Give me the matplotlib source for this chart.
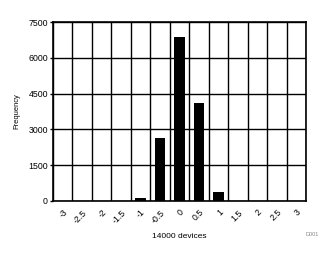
import matplotlib
matplotlib.use("Agg")
import matplotlib.pyplot as plt
import numpy as np

categories = ["-3", "-2.5", "-2", "-1.5", "-1", "-0.5", "0", "0.5", "1", "1.5", "2", "2.5", "3"]
frequency = [0, 0, 0, 0, 140, 2625, 6870, 4125, 375, 0, 0, 0, 0]
yticks = [0, 1500, 3000, 4500, 6000, 7500]

plt.rcParams['font.family'] = ['Liberation Sans', 'DejaVu Sans']

fig = plt.figure(figsize=(3.35, 2.54), dpi=100)
ax = fig.add_axes([53/335, 1 - 201/254, (306-53)/335, (201-22)/254])

x = np.arange(len(categories))
ax.bar(x, frequency, width=0.56, color='black', zorder=3)
ax.set_xlim(-0.5, len(categories) - 0.5)
ax.set_ylim(0, 7500)
ax.set_yticks(yticks)
ax.set_yticklabels([str(v) for v in yticks], fontsize=6.3)
ax.set_xticks(x)
ax.set_xticklabels(categories, fontsize=6.3, rotation=45, ha='right', rotation_mode='anchor')
ax.set_xticks(np.arange(len(categories) + 1) - 0.5, minor=True)
ax.tick_params(axis='x', which='both', length=0, pad=5)
ax.tick_params(axis='y', which='major', length=2.2, width=1.0, pad=1.5, direction='out')
ax.grid(True, which='minor', axis='x', color='black', linewidth=1.0, zorder=1)
ax.grid(True, which='major', axis='y', color='black', linewidth=1.0, zorder=1)
for s in ax.spines.values():
    s.set_linewidth(1.2)
    s.set_zorder(4)
ax.set_ylabel("Frequency", fontsize=5.4, labelpad=6)
ax.set_xlabel("14000 devices", fontsize=6.0, labelpad=6)
fig.text(312/335, 1 - 234/254, "D001", fontsize=4, color='#888888', ha='center', va='center')

fig.savefig("out.png", dpi=100)
